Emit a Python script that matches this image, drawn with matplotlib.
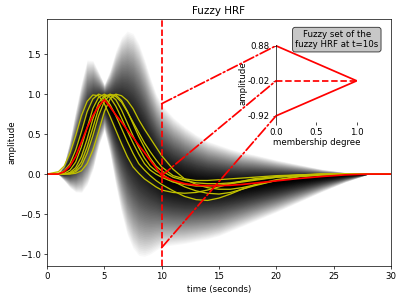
import numpy as np
import matplotlib
matplotlib.use("Agg")
import matplotlib.pyplot as plt
from matplotlib.patches import ConnectionPatch

# time grid (seconds) shared by all series
t = [0, 1, 1.5, 2, 2.5, 3, 3.5, 4, 4.5, 5, 5.5, 6, 6.5, 7, 7.5, 8, 8.5, 9, 9.5, 10,
     11, 12, 13, 14, 15, 16, 17, 18, 20, 22, 24, 26, 28, 30]

# fuzzy HRF: core (membership 1) and support bounds (membership 0)
core = [0, 0, 0.03, 0.10, 0.22, 0.40, 0.58, 0.73, 0.85, 0.93, 0.84, 0.74, 0.65, 0.55, 0.46,
        0.36, 0.27, 0.17, 0.08, -0.02, -0.08, -0.12, -0.14, -0.145, -0.145, -0.14, -0.13,
        -0.115, -0.085, -0.055, -0.03, -0.01, 0, 0]
upper = [0, 0, 0.12, 0.42, 0.8, 1.15, 1.44, 1.43, 1.28, 1.12, 1.3, 1.55, 1.73, 1.81, 1.78,
         1.65, 1.45, 1.22, 1.02, 0.88, 0.72, 0.6, 0.5, 0.42, 0.37, 0.32, 0.28, 0.25, 0.18,
         0.12, 0.06, 0.02, 0, 0]
lower = [0, 0, -0.08, -0.17, -0.23, -0.24, -0.14, 0.05, 0.35, 0.55, 0.25, -0.15, -0.5, -0.78,
         -0.95, -1.04, -1.05, -1.02, -0.97, -0.92, -0.9, -0.88, -0.85, -0.82, -0.78, -0.72,
         -0.66, -0.6, -0.48, -0.35, -0.22, -0.1, 0, 0]

# sample HRFs (yellow)
hrf_1 = [0, 0.03, 0.10, 0.26, 0.48, 0.73, 0.91, 0.99, 0.98, 0.88, 0.72, 0.55, 0.38, 0.22, 0.09,
         0.01, -0.06, -0.11, -0.16, -0.2, -0.23, -0.24, -0.23, -0.2, -0.16, -0.12, -0.09, -0.06,
         -0.03, -0.01, 0, 0, 0, 0]
hrf_2 = [0, 0.01, 0.04, 0.13, 0.30, 0.53, 0.78, 0.94, 1.0, 0.97, 0.87, 0.73, 0.57, 0.41, 0.26,
         0.13, 0.05, -0.02, -0.08, -0.13, -0.21, -0.28, -0.32, -0.33, -0.3, -0.25, -0.19, -0.14,
         -0.07, -0.03, -0.01, 0, 0, 0]
hrf_3 = [0, 0, 0.01, 0.05, 0.15, 0.34, 0.58, 0.82, 0.96, 1.0, 0.96, 0.85, 0.7, 0.54, 0.39,
         0.25, 0.13, 0.05, 0.0, -0.04, -0.1, -0.13, -0.15, -0.15, -0.14, -0.12, -0.1, -0.08,
         -0.04, -0.02, 0, 0, 0, 0]
hrf_4 = [0, 0, 0, 0.02, 0.08, 0.22, 0.44, 0.69, 0.89, 0.98, 0.99, 0.93, 0.8, 0.64, 0.48,
         0.33, 0.2, 0.1, 0.04, 0.0, -0.09, -0.16, -0.21, -0.24, -0.25, -0.23, -0.19, -0.15,
         -0.08, -0.03, -0.01, 0, 0, 0]
hrf_5 = [0, 0, 0, 0.005, 0.03, 0.1, 0.26, 0.48, 0.73, 0.91, 0.99, 0.99, 0.92, 0.79, 0.63,
         0.47, 0.33, 0.2, 0.1, 0.04, -0.04, -0.08, -0.11, -0.12, -0.12, -0.11, -0.09, -0.07,
         -0.04, -0.015, 0, 0, 0, 0]
hrf_6 = [0, 0, 0, 0, 0.01, 0.04, 0.13, 0.3, 0.53, 0.78, 0.94, 1.0, 0.98, 0.92, 0.82,
         0.68, 0.56, 0.45, 0.34, 0.23, 0.06, -0.06, -0.13, -0.17, -0.19, -0.19, -0.17, -0.14,
         -0.08, -0.03, -0.01, 0, 0, 0]
hrf_7 = [0, 0, 0, 0.01, 0.05, 0.15, 0.34, 0.58, 0.82, 0.96, 1.0, 0.97, 0.9, 0.78, 0.65,
         0.52, 0.39, 0.28, 0.18, 0.09, -0.02, -0.06, -0.08, -0.08, -0.07, -0.06, -0.05, -0.04,
         -0.02, -0.01, 0, 0, 0, 0]
samples = [hrf_1, hrf_2, hrf_3, hrf_4, hrf_5, hrf_6, hrf_7]

# fuzzy set at t = 10 s
t_cut = 10
cut_values = [0.88, -0.02, -0.92]
cut_labels = ["0.88", "-0.02", "-0.92"]

t_arr = np.array(t)
core_arr = np.array(core)
up_arr = np.array(upper)
lo_arr = np.array(lower)

fig = plt.figure(figsize=(6.4, 4.768), dpi=62.5)
ax = fig.add_axes([0.1175, 0.1074, 0.86, 0.8289])

# alpha-cuts, from the widest (white) to the core (black)
levels = np.linspace(0, 1, 60)
for a in levels[:-1]:
    lo = core_arr - (1 - a) * (core_arr - lo_arr)
    hi = core_arr + (1 - a) * (up_arr - core_arr)
    ax.fill_between(t_arr, lo, hi, color=str((1 - a) ** 1.6), linewidth=0)

for s in samples:
    ax.plot(t, s, color="y", lw=1.5)
ax.plot(t, core, color="r", lw=2)
ax.axvline(t_cut, color="r", ls="--", lw=2)

ax.set_xlim(0, 30)
ax.set_ylim(-1.15, 1.94)
ax.set_xticks([0, 5, 10, 15, 20, 25, 30])
ax.set_yticks([-1.0, -0.5, 0.0, 0.5, 1.0, 1.5])
ax.set_xlabel("time (seconds)")
ax.set_ylabel("amplitude")
ax.set_title("Fuzzy HRF")

# inset with the triangular fuzzy number
axins = fig.add_axes([0.69, 0.5916, 0.2017, 0.2574])
axins.plot([0, 1, 0], cut_values, color="r", lw=2)
axins.plot([0, 1], [cut_values[1], cut_values[1]], color="r", ls="--", lw=2)
axins.set_xlim(0, 1)
axins.set_ylim(-1.07, 0.9)
axins.set_yticks(cut_values)
axins.set_yticklabels(cut_labels)
axins.set_xticks([0, 0.5, 1.0])
axins.set_xlabel("membership degree", labelpad=1)
axins.set_ylabel("amplitude", labelpad=0)
for side in ["top", "right", "bottom"]:
    axins.spines[side].set_visible(False)

for v in cut_values:
    con = ConnectionPatch(xyA=(t_cut, v), coordsA=ax.transData,
                          xyB=(0, v), coordsB=axins.transData,
                          color="r", ls="-.", lw=2)
    fig.add_artist(con)

fig.text(0.842, 0.867, "Fuzzy set of the\nfuzzy HRF at t=10s", ha="center", va="center",
         bbox=dict(boxstyle="round", facecolor="0.78", edgecolor="0.2"))

fig.savefig("out.png", dpi=62.5)
